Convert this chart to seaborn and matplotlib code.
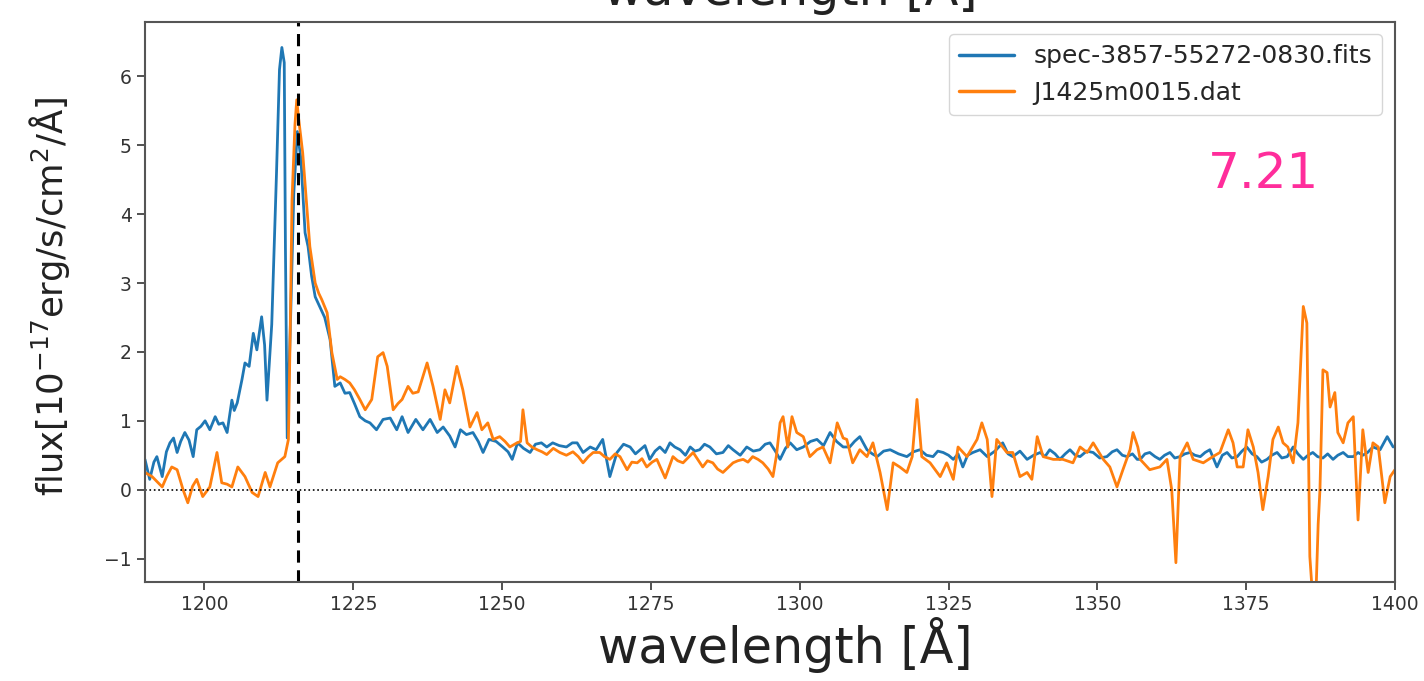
import numpy as np
import pandas as pd
import matplotlib
matplotlib.use("Agg")
import matplotlib.pyplot as plt
import seaborn as sns

# ---------------- data ----------------
sdss_wave = [1190.0, 1190.8, 1191.5, 1192.0, 1192.9, 1193.6, 1194.2, 1194.8, 1195.4, 1196.0,
             1196.7, 1197.4, 1198.1, 1198.7, 1199.4, 1200.1, 1200.9, 1201.8, 1202.4, 1203.1,
             1203.8, 1204.6, 1205.0, 1205.5, 1206.3, 1206.8, 1207.5, 1208.2, 1208.8, 1209.6,
             1210.1, 1210.5, 1211.3, 1212.1, 1212.6, 1213.0, 1213.4, 1213.6, 1213.9, 1214.5,
             1215.0, 1215.6, 1216.2, 1216.9, 1217.4, 1218.0, 1218.6, 1219.4, 1220.2, 1221.1,
             1221.9, 1222.8, 1223.6, 1224.4, 1225.2, 1226.1, 1227.0, 1227.8, 1228.9, 1230.0,
             1231.2, 1232.3, 1233.2, 1234.2, 1235.5, 1236.7, 1237.9, 1239.1, 1240.1, 1241.2,
             1242.1, 1243.0, 1244.0, 1245.1, 1246.0, 1246.8, 1247.8, 1249.0, 1250.1, 1251.0,
             1251.7, 1252.6, 1253.6, 1254.7, 1255.6, 1256.6, 1257.5, 1258.5, 1259.6, 1260.8,
             1261.8, 1262.6, 1263.6, 1264.8, 1265.8, 1266.9, 1268.1, 1269.3, 1270.4, 1271.5,
             1272.4, 1273.2, 1274.0, 1274.8, 1275.7, 1276.5, 1277.4, 1278.2, 1279.0, 1279.9,
             1280.8, 1281.6, 1282.4, 1283.2, 1284.0, 1284.9, 1286.0, 1287.1, 1288.0, 1288.8,
             1290.0, 1291.1, 1292.2, 1293.3, 1294.2, 1295.0, 1295.9, 1296.7, 1297.6, 1298.4,
             1299.5, 1300.6, 1301.8, 1302.9, 1304.0, 1305.1, 1306.2, 1307.3, 1308.4, 1309.2,
             1310.1, 1311.3, 1312.2, 1313.0, 1314.1, 1315.2, 1316.6, 1318.0, 1319.1, 1320.2,
             1321.3, 1322.4, 1323.2, 1324.1, 1325.0, 1325.8, 1326.6, 1327.4, 1328.2, 1329.1,
             1330.3, 1331.5, 1332.8, 1334.1, 1335.0, 1335.8, 1337.0, 1338.2, 1339.3, 1340.4,
             1341.2, 1342.0, 1342.9, 1343.7, 1344.6, 1345.4, 1346.3, 1347.1, 1348.2, 1349.3,
             1350.4, 1351.6, 1352.5, 1353.3, 1354.2, 1355.0, 1355.9, 1356.7, 1357.2, 1358.0,
             1358.8, 1359.7, 1360.5, 1361.3, 1362.2, 1363.0, 1363.9, 1364.7, 1365.6, 1366.4,
             1367.3, 1368.1, 1368.9, 1370.1, 1371.0, 1371.8, 1372.6, 1373.5, 1374.3, 1375.1,
             1376.0, 1376.8, 1377.6, 1378.5, 1379.3, 1380.2, 1381.0, 1381.9, 1382.9, 1383.7,
             1384.6, 1385.4, 1386.2, 1387.0, 1387.9, 1388.7, 1389.6, 1390.4, 1391.3, 1392.1,
             1393.0, 1393.8, 1394.6, 1395.4, 1396.3, 1397.5, 1398.7, 1399.7]
sdss_flux = [0.44, 0.15, 0.40, 0.48, 0.19, 0.55, 0.68, 0.75, 0.54, 0.70,
             0.83, 0.72, 0.48, 0.87, 0.92, 1.00, 0.87, 1.06, 0.95, 0.97,
             0.83, 1.30, 1.15, 1.26, 1.60, 1.84, 1.79, 2.27, 2.03, 2.51,
             2.10, 1.30, 2.40, 4.60, 6.10, 6.42, 6.20, 3.50, 0.75, 2.60,
             4.30, 5.20, 4.80, 3.73, 3.53, 3.10, 2.80, 2.65, 2.50, 2.18,
             1.50, 1.55, 1.40, 1.41, 1.25, 1.06, 1.00, 0.97, 0.87, 1.02,
             1.04, 0.87, 1.06, 0.83, 1.02, 0.87, 1.02, 0.83, 0.91, 0.78,
             0.62, 0.87, 0.80, 0.83, 0.70, 0.54, 0.73, 0.70, 0.62, 0.55,
             0.44, 0.68, 0.60, 0.54, 0.66, 0.68, 0.62, 0.68, 0.64, 0.62,
             0.68, 0.68, 0.54, 0.62, 0.58, 0.73, 0.19, 0.54, 0.66, 0.62,
             0.52, 0.58, 0.64, 0.44, 0.56, 0.62, 0.54, 0.68, 0.62, 0.58,
             0.50, 0.62, 0.56, 0.58, 0.66, 0.62, 0.52, 0.54, 0.64, 0.58,
             0.50, 0.62, 0.56, 0.58, 0.66, 0.68, 0.56, 0.44, 0.60, 0.68,
             0.58, 0.62, 0.70, 0.73, 0.64, 0.83, 0.70, 0.62, 0.62, 0.70,
             0.77, 0.58, 0.52, 0.48, 0.56, 0.58, 0.52, 0.48, 0.55, 0.58,
             0.50, 0.48, 0.56, 0.54, 0.50, 0.44, 0.52, 0.33, 0.50, 0.54,
             0.58, 0.48, 0.56, 0.68, 0.52, 0.48, 0.56, 0.44, 0.50, 0.54,
             0.48, 0.58, 0.52, 0.44, 0.52, 0.58, 0.50, 0.48, 0.56, 0.54,
             0.46, 0.48, 0.55, 0.58, 0.50, 0.48, 0.52, 0.44, 0.44, 0.52,
             0.54, 0.48, 0.44, 0.50, 0.54, 0.46, 0.48, 0.52, 0.54, 0.50,
             0.48, 0.54, 0.58, 0.33, 0.50, 0.54, 0.46, 0.48, 0.56, 0.62,
             0.52, 0.48, 0.40, 0.44, 0.50, 0.54, 0.46, 0.48, 0.62, 0.52,
             0.44, 0.50, 0.54, 0.48, 0.46, 0.52, 0.44, 0.50, 0.54, 0.48,
             0.48, 0.54, 0.50, 0.54, 0.62, 0.58, 0.77, 0.62]

xs_wave = [1190.0, 1191.2, 1192.0, 1192.9, 1193.7, 1194.5, 1195.4, 1196.4, 1197.2, 1198.0,
           1198.7, 1199.7, 1200.9, 1202.1, 1202.9, 1203.8, 1204.6, 1205.6, 1206.8, 1208.0,
           1209.0, 1210.2, 1211.0, 1212.3, 1213.5, 1214.1, 1214.4, 1214.7, 1215.2, 1215.5,
           1215.8, 1216.5, 1217.2, 1217.7, 1218.6, 1219.2, 1219.7, 1220.6, 1221.4, 1222.3,
           1222.8, 1223.6, 1224.4, 1225.2, 1226.1, 1227.0, 1228.1, 1229.1, 1230.0, 1230.7,
           1231.7, 1232.5, 1233.2, 1234.2, 1235.0, 1235.9, 1237.4, 1238.4, 1239.6, 1240.4,
           1241.2, 1242.4, 1243.4, 1244.6, 1245.8, 1246.6, 1247.6, 1248.5, 1249.6, 1250.5,
           1251.3, 1252.5, 1253.1, 1253.5, 1254.2, 1255.0, 1255.9, 1256.7, 1257.5, 1258.6,
           1259.7, 1260.8, 1261.9, 1262.8, 1263.6, 1264.5, 1265.3, 1266.4, 1267.2, 1268.1,
           1269.0, 1269.8, 1271.0, 1271.8, 1272.7, 1273.5, 1274.3, 1275.2, 1276.0, 1277.4,
           1278.7, 1279.5, 1280.4, 1281.2, 1282.1, 1283.7, 1284.5, 1285.4, 1286.2, 1287.1,
           1288.8, 1289.6, 1290.5, 1291.3, 1292.1, 1293.0, 1293.8, 1294.7, 1295.5, 1296.1,
           1296.7, 1297.2, 1298.0, 1298.7, 1299.5, 1300.6, 1301.7, 1302.9, 1303.9, 1305.1,
           1306.3, 1307.3, 1307.9, 1308.9, 1310.1, 1311.3, 1312.3, 1313.5, 1314.7, 1315.7,
           1316.8, 1318.0, 1318.9, 1319.7, 1320.5, 1321.9, 1323.6, 1324.7, 1325.8, 1326.6,
           1328.1, 1329.8, 1330.6, 1331.5, 1332.3, 1333.1, 1334.8, 1335.8, 1337.0, 1338.2,
           1339.0, 1339.9, 1340.9, 1342.6, 1344.2, 1345.9, 1347.1, 1348.3, 1349.3, 1351.0,
           1352.1, 1353.3, 1354.3, 1355.5, 1356.0, 1356.8, 1357.2, 1358.8, 1360.5, 1361.7,
           1362.5, 1363.2, 1363.9, 1365.1, 1366.1, 1367.8, 1369.4, 1370.6, 1372.0, 1372.8,
           1373.5, 1374.5, 1375.3, 1376.2, 1377.0, 1377.8, 1378.7, 1379.5, 1380.4, 1381.2,
           1382.0, 1382.9, 1383.7, 1384.6, 1385.2, 1385.7, 1386.2, 1386.7, 1387.1, 1387.4,
           1387.9, 1388.6, 1389.1, 1389.9, 1390.4, 1391.3, 1392.1, 1393.0, 1393.8, 1394.6,
           1395.5, 1396.3, 1397.2, 1398.3, 1399.2, 1400.0]
xs_flux = [0.25, 0.19, 0.12, 0.04, 0.20, 0.33, 0.29, 0.00, -0.19, 0.05,
           0.15, -0.10, 0.04, 0.54, 0.10, 0.08, 0.04, 0.33, 0.19, -0.04,
           -0.10, 0.25, 0.04, 0.39, 0.48, 0.73, 2.28, 4.20, 5.30, 5.66,
           5.40, 4.89, 4.10, 3.53, 3.00, 2.85, 2.76, 2.57, 1.99, 1.60,
           1.64, 1.60, 1.55, 1.45, 1.31, 1.16, 1.31, 1.93, 1.99, 1.79,
           1.16, 1.25, 1.31, 1.50, 1.40, 1.42, 1.84, 1.50, 1.02, 1.45,
           1.26, 1.79, 1.45, 0.91, 1.12, 0.87, 0.97, 0.73, 0.77, 0.70,
           0.62, 0.68, 0.70, 1.16, 0.68, 0.62, 0.58, 0.55, 0.51, 0.60,
           0.54, 0.50, 0.55, 0.48, 0.39, 0.48, 0.54, 0.54, 0.48, 0.44,
           0.52, 0.48, 0.29, 0.40, 0.39, 0.45, 0.33, 0.40, 0.44, 0.17,
           0.48, 0.42, 0.39, 0.46, 0.54, 0.33, 0.42, 0.39, 0.30, 0.25,
           0.39, 0.42, 0.44, 0.40, 0.48, 0.44, 0.39, 0.30, 0.19, 0.50,
           0.97, 1.06, 0.62, 1.06, 0.83, 0.77, 0.48, 0.58, 0.62, 0.39,
           0.97, 0.75, 0.73, 0.39, 0.58, 0.48, 0.68, 0.25, -0.29, 0.39,
           0.33, 0.25, 0.48, 1.31, 0.48, 0.39, 0.19, 0.39, 0.15, 0.62,
           0.48, 0.73, 0.97, 0.73, -0.10, 0.73, 0.54, 0.54, 0.19, 0.25,
           0.15, 0.77, 0.48, 0.44, 0.44, 0.39, 0.62, 0.54, 0.68, 0.44,
           0.33, 0.04, 0.29, 0.58, 0.83, 0.62, 0.44, 0.29, 0.33, 0.44,
           0.00, -1.06, 0.48, 0.68, 0.44, 0.39, 0.48, 0.54, 0.87, 0.68,
           0.33, 0.33, 0.87, 0.62, 0.25, -0.29, 0.19, 0.73, 0.91, 0.68,
           0.62, 0.39, 0.97, 2.66, 2.42, -0.97, -1.60, -1.60, -0.50, 0.00,
           1.74, 1.70, 1.20, 1.41, 0.83, 0.68, 0.97, 1.06, -0.44, 0.87,
           0.25, 0.68, 0.62, -0.19, 0.19, 0.29]

series_labels = ["spec-3857-55272-0830.fits", "J1425m0015.dat"]
series_colors = ["#1f77b4", "#ff7f0e"]
lya_line = 1215.67
redshift_text = "7.21"
x_limits = (1190, 1400)
y_limits = (-1.34, 6.79)
x_ticks = [1200, 1225, 1250, 1275, 1300, 1325, 1350, 1375, 1400]
y_ticks = [-1, 0, 1, 2, 3, 4, 5, 6]

# ---------------- figure ----------------
sns.set_style("ticks")
plt.rcParams["font.family"] = ["DejaVu Sans"]

df = pd.concat([
    pd.DataFrame({"wave": sdss_wave, "flux": sdss_flux, "spec": series_labels[0]}),
    pd.DataFrame({"wave": xs_wave, "flux": xs_flux, "spec": series_labels[1]}),
], ignore_index=True)

fig = plt.figure(figsize=(14.24, 6.81), dpi=100)
ax = fig.add_axes([0.1018, 0.1454, 0.8778, 0.8223])

sns.lineplot(data=df, x="wave", y="flux", hue="spec", palette=series_colors,
             estimator=None, sort=False, linewidth=2.0, ax=ax)

ax.axvline(lya_line, color="black", linestyle="--", linewidth=2.2, dashes=(4, 2.5))
ax.axhline(0, color="black", linestyle=":", linewidth=1.2)

ax.set_xlim(*x_limits)
ax.set_ylim(*y_limits)
ax.set_xticks(x_ticks)
ax.set_yticks(y_ticks)
ax.set_yticklabels(["\u22121" if t == -1 else str(t) for t in y_ticks])
ax.tick_params(axis="both", labelsize=13.5, colors="#333333", length=6, width=1.2)
for s in ax.spines.values():
    s.set_color("#555555")
    s.set_linewidth(1.5)

ax.set_xlabel("wavelength [Å]", fontsize=35.5, color="#222222")
ax.xaxis.set_label_coords(0.512, -0.062, transform=ax.transAxes)
ax.xaxis.label.set_va("top")
ax.set_ylabel(r"flux[10$^{-17}$erg/s/cm$^2$/Å]", fontsize=25.5, color="#222222")
ax.yaxis.set_label_coords(-0.058, 0.51)

ax.text(0.85, 0.685, redshift_text, transform=ax.transAxes, color="#ff2d9b",
        fontsize=36, ha="left", va="bottom")

leg = ax.legend(loc="upper right", fontsize=18, frameon=True, title=None,
                handlelength=2.2, borderaxespad=0.5)
leg.get_frame().set_edgecolor("#cccccc")
for line in leg.get_lines():
    line.set_linewidth(2.5)

# label of the panel above, cut by the top edge of the image
fig.text(0.555, 1 - 5 / 681, "wavelength [Å]", fontsize=35.5, ha="center",
         va="baseline", color="#222222")

fig.savefig("out.png", dpi=100)
